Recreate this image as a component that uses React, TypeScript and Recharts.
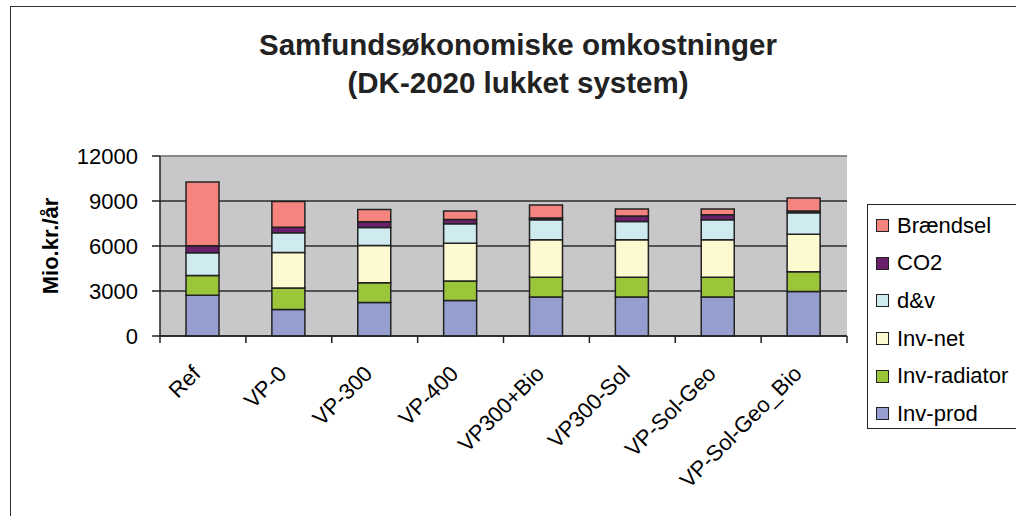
import React from "react"
import { Bar, BarChart, CartesianGrid, ReferenceLine, XAxis, YAxis } from "recharts"

// scenarios on the x axis
const scenarios = ["Ref", "VP-0", "VP-300", "VP-400", "VP300+Bio", "VP300-Sol", "VP-Sol-Geo", "VP-Sol-Geo_Bio"]

// Mio.kr./år
const invProd = [2710, 1760, 2240, 2360, 2600, 2600, 2600, 2960]
const invRadiator = [1330, 1440, 1310, 1310, 1310, 1310, 1310, 1330]
const invNet = [0, 2360, 2490, 2510, 2510, 2510, 2510, 2490]
const dv = [1510, 1330, 1200, 1310, 1330, 1220, 1330, 1440]
const co2 = [470, 360, 380, 270, 110, 360, 330, 110]
const braendsel = [4240, 1710, 820, 580, 870, 470, 380, 870]

const yTicks = [0, 3000, 6000, 9000, 12000]

const series = [
  { key: "prod", name: "Inv-prod", color: "#959ECF", values: invProd },
  { key: "radiator", name: "Inv-radiator", color: "#9BC63A", values: invRadiator },
  { key: "net", name: "Inv-net", color: "#FDF9D0", values: invNet },
  { key: "dv", name: "d&v", color: "#CFEBF0", values: dv },
  { key: "co2", name: "CO2", color: "#6A1F6A", values: co2 },
  { key: "fuel", name: "Brændsel", color: "#F5847F", values: braendsel },
]

const data = scenarios.map((name, i) => {
  const row: Record<string, number | string> = { name }
  series.forEach((s) => {
    row[s.key] = s.values[i]
  })
  return row
})

const font = "'Liberation Sans', Arial, sans-serif"

const W = 1016
const H = 516
const margin = { top: 156, right: 169, bottom: 0, left: 0 }
const yAxisWidth = 160
const plotWidth = W - margin.left - margin.right - yAxisWidth

// category label plus the Excel-style tick marks between categories
function CategoryTick(props: any) {
  const { x, y, payload, index } = props
  const band = plotWidth / scenarios.length
  const left = x - band / 2
  return (
    <g>
      <path d={`M${left},${y}V${y + 7}`} stroke="#222" strokeWidth={1.5} fill="none" />
      {index === scenarios.length - 1 && (
        <path d={`M${left + band},${y}V${y + 7}`} stroke="#222" strokeWidth={1.5} fill="none" />
      )}
      <text
        x={x - 1}
        y={y + 39}
        transform={`rotate(-45, ${x - 1}, ${y + 39})`}
        textAnchor="end"
        fontSize={22}
        fontFamily={font}
        fill="#000"
        stroke="none"
      >
        {payload.value}
      </text>
    </g>
  )
}

function LegendBox() {
  return (
    <div
      style={{
        position: "absolute",
        left: 867,
        top: 204,
        border: "1.5px solid #222",
        background: "#fff",
        width: 160,
        height: 225,
        boxSizing: "border-box",
        padding: "2px 0 0 8px",
        fontFamily: font,
        fontSize: 22,
      }}
    >
      {[...series].reverse().map((s) => (
        <div key={s.key} style={{ display: "flex", alignItems: "center", height: 37.6 }}>
          <span
            style={{
              display: "inline-block",
              width: 11,
              height: 11,
              background: s.color,
              border: "1px solid #222",
              marginRight: 8,
            }}
          />
          <span>{s.name}</span>
        </div>
      ))}
    </div>
  )
}

export default function App() {
  return (
    <div style={{ position: "absolute", left: 0, top: 0, width: W, height: H, overflow: "hidden", background: "#fff" }}>
      <div
        style={{
          position: "absolute",
          left: 10,
          top: 6,
          width: 1030,
          height: 530,
          border: "1.5px solid #333",
        }}
      />
      <div
        style={{
          position: "absolute",
          left: 0,
          width: 1036,
          top: 26,
          textAlign: "center",
          fontFamily: font,
          fontWeight: "bold",
          fontSize: 29.5,
          lineHeight: "38px",
          color: "#222",
        }}
      >
        <div>Samfundsøkonomiske omkostninger</div>
        <div>(DK-2020 lukket system)</div>
      </div>
      <div style={{ position: "absolute", left: 0, top: 0 }}>
        <BarChart width={W} height={H} data={data} margin={margin} barSize={33}>
          <CartesianGrid vertical={false} fill="#C8C8CA" stroke="#2b2b2b" strokeWidth={1.5} />
          <XAxis
            dataKey="name"
            height={180}
            interval={0}
            tickLine={false}
            tickSize={0}
            tickMargin={0}
            axisLine={{ stroke: "#222", strokeWidth: 1.5 }}
            tick={<CategoryTick />}
          />
          <YAxis
            width={yAxisWidth}
            domain={[0, 12000]}
            ticks={yTicks}
            interval={0}
            tickSize={8}
            tickMargin={14}
            axisLine={{ stroke: "#222", strokeWidth: 1.5 }}
            tickLine={{ stroke: "#222", strokeWidth: 1.5 }}
            tick={{ fontSize: 22, fontFamily: font, fill: "#000" }}
            label={{
              value: "Mio.kr./år",
              angle: -90,
              position: "insideLeft",
              offset: 50,
              style: { fontSize: 22, fontWeight: "bold", fontFamily: font, fill: "#000", textAnchor: "middle" },
            }}
          />
          <ReferenceLine y={12000} stroke="#9a9a9a" strokeWidth={1.5} />
          {series.map((s) => (
            <Bar
              key={s.key}
              dataKey={s.key}
              name={s.name}
              stackId="a"
              fill={s.color}
              stroke="#222"
              strokeWidth={1.5}
              isAnimationActive={false}
            />
          ))}
        </BarChart>
      </div>
      <LegendBox />
    </div>
  )
}
